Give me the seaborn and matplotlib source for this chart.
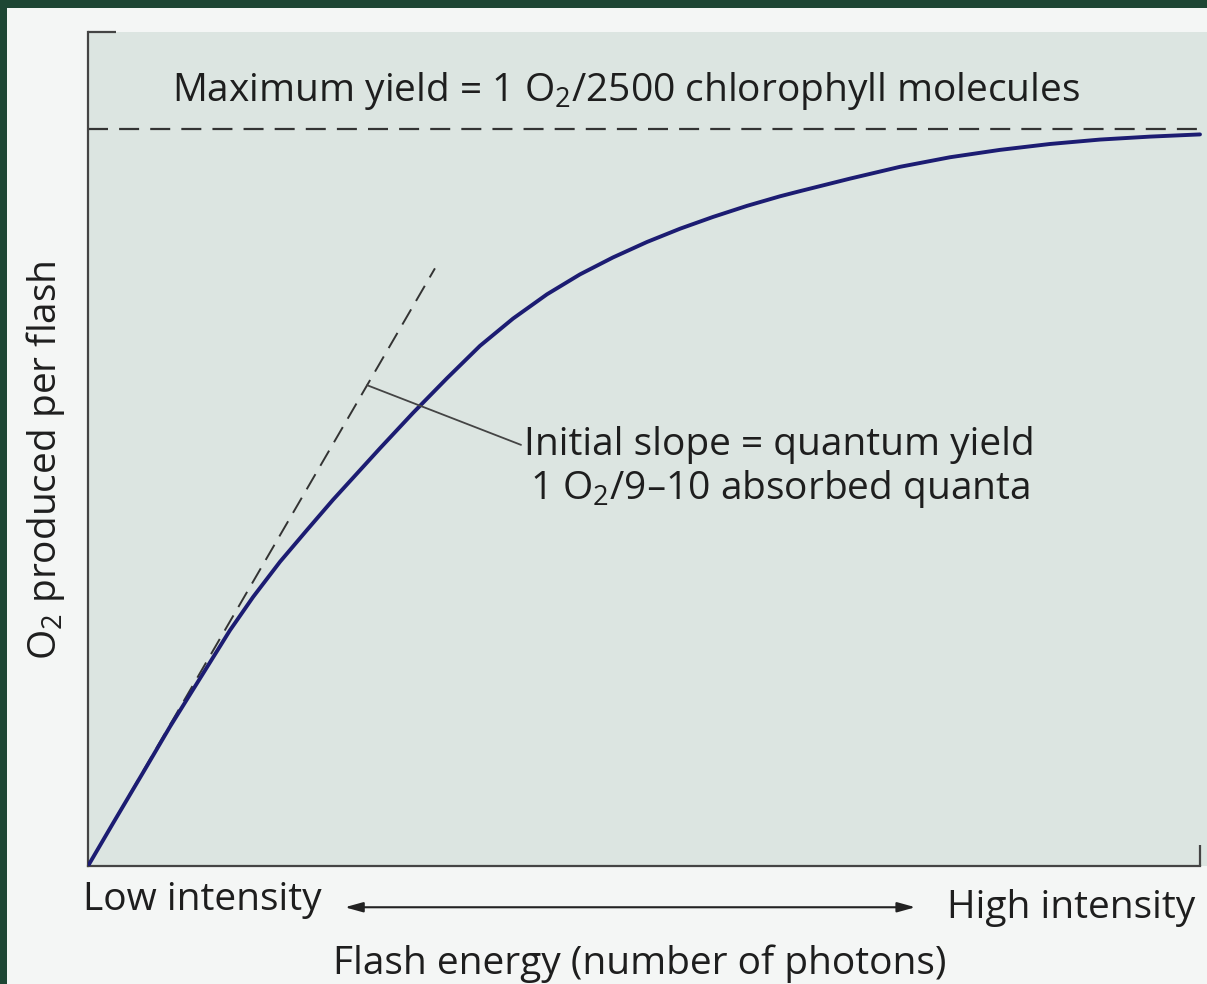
import matplotlib
matplotlib.use("Agg")
import matplotlib.pyplot as plt
import seaborn as sns
import pandas as pd
from matplotlib.patches import Rectangle

# ---- data (arbitrary units) ----
flash_energy = [0.0, 0.225, 0.531, 0.737, 0.980, 1.277, 1.484, 1.727, 1.969, 2.203,
                2.626, 2.923, 3.228, 3.525, 3.822, 4.128, 4.424, 4.721, 5.027, 5.324,
                5.621, 5.926, 6.223, 6.403, 6.853, 7.302, 7.752, 8.201, 8.651, 9.101,
                9.550, 10.0]
o2_per_flash = [0.0, 0.058, 0.136, 0.189, 0.248, 0.320, 0.365, 0.413, 0.456, 0.497,
                0.567, 0.615, 0.662, 0.706, 0.743, 0.776, 0.803, 0.826, 0.847, 0.865,
                0.881, 0.896, 0.909, 0.916, 0.933, 0.949, 0.962, 0.972, 0.980, 0.986,
                0.990, 0.993]
max_yield = 1.0
initial_slope = 0.26
slope_line_end = 3.12

max_label = "Maximum yield = 1 O$_2$/2500 chlorophyll molecules"
slope_label = "Initial slope = quantum yield\n1 O$_2$/9\u201310 absorbed quanta"
ylabel = "O$_2$ produced per flash"
xlabel = "Flash energy (number of photons)"
low_label = "Low intensity"
high_label = "High intensity"

sns.set_theme(style="white")
plt.rcParams["font.family"] = ["Open Sans", "DejaVu Sans"]
plt.rcParams["mathtext.default"] = "regular"

W, H = 1207, 984
fig = plt.figure(figsize=(W / 100, H / 100), dpi=100)
fig.patch.set_facecolor("#f4f6f5")

# scanned-page dark frame
fig.patches.append(Rectangle((0, 1 - 8 / H), 1, 8 / H, transform=fig.transFigure,
                             facecolor="#1e4634", edgecolor="none", zorder=0))
fig.patches.append(Rectangle((0, 0), 7 / W, 1, transform=fig.transFigure,
                             facecolor="#1e4634", edgecolor="none", zorder=0))

ax = fig.add_axes([88 / W, (H - 866) / H, (W - 88) / W, (866 - 32) / H])
ax.set_facecolor("#dce5e1")
ax.set_xlim(0, 10.063)
ax.set_ylim(0, 1.132)

ink = "#333333"
txt = "#1e1e1e"
fs = 28
for s in ["top", "right"]:
    ax.spines[s].set_visible(False)
for s in ["left", "bottom"]:
    ax.spines[s].set_color("#444444")
    ax.spines[s].set_linewidth(1.6)
ax.spines["bottom"].set_bounds(0, 10)

ax.set_xticks([10])
ax.set_yticks([1.132])
ax.tick_params(axis="x", direction="in", length=15, width=1.6, color="#444444", labelbottom=False, bottom=True)
ax.tick_params(axis="y", direction="in", length=20, width=1.6, color="#444444", labelleft=False, left=True)

df = pd.DataFrame({"energy": flash_energy, "o2": o2_per_flash})
sns.lineplot(data=df, x="energy", y="o2", ax=ax, color="#1c1c72", linewidth=2.8, zorder=3)
ax.set_xlabel("")
ax.set_ylabel("")

# maximum yield dashed line
ax.plot([0, 10], [max_yield, max_yield], color=ink, lw=1.6, dashes=(9, 5), zorder=2)
# initial slope dashed line
ax.plot([0, slope_line_end], [0, initial_slope * slope_line_end], color=ink, lw=1.4, dashes=(9, 5), zorder=2)

ax.text(-0.0384, 0.487, ylabel, transform=ax.transAxes, rotation=90, ha="center", va="center",
        fontsize=fs, color=txt, clip_on=False)

ax.text(4.84, 1.052, max_label, ha="center", va="center", fontsize=fs, color=txt)

lx = 2.51
ax.annotate(slope_label, xy=(lx, initial_slope * lx), xytext=(6.22, 0.54),
            ha="center", va="center", fontsize=fs, color=txt, linespacing=1.15,
            arrowprops=dict(arrowstyle="-", color="#444444", lw=1.3, shrinkA=0, shrinkB=0,
                            relpos=(0.0, 0.76)))

ax.text(-0.045, -0.046, low_label, ha="left", va="center", fontsize=fs, color=txt, clip_on=False)
ax.text(9.955, -0.057, high_label, ha="right", va="center", fontsize=fs, color=txt, clip_on=False)
ax.annotate("", xy=(2.31, -0.056), xytext=(7.44, -0.056), annotation_clip=False,
            arrowprops=dict(arrowstyle="<|-|>,head_length=0.9,head_width=0.25", color="#222222", lw=1.5,
                            shrinkA=0, shrinkB=0))
ax.text(4.96, -0.132, xlabel, ha="center", va="center", fontsize=fs, color=txt, clip_on=False)

fig.savefig("out.png", dpi=100, facecolor=fig.get_facecolor())
